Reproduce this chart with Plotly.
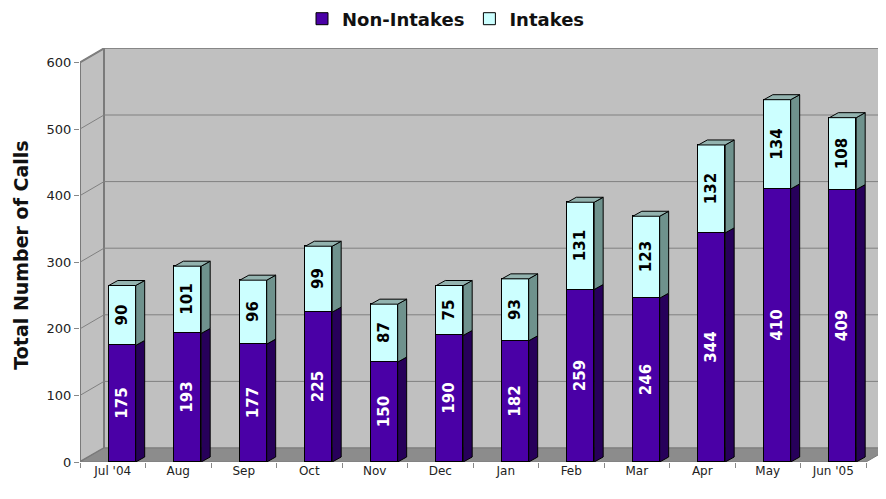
import plotly.graph_objects as go

# ---- data ----
months = ["Jul '04", "Aug", "Sep", "Oct", "Nov", "Dec", "Jan", "Feb", "Mar", "Apr", "May", "Jun '05"]
non_intakes = [175, 193, 177, 225, 150, 190, 182, 259, 246, 344, 410, 409]
intakes = [90, 101, 96, 99, 87, 75, 93, 131, 123, 132, 134, 108]
y_ticks = [0, 100, 200, 300, 400, 500, 600]

# ---- styling / geometry constants ----
PAGE = 8                           # default body margin of the html page
W, H = 886 - PAGE, 499 - PAGE
ML, MR, MT, MB = 80 - PAGE, 0, 48 - PAGE, H - (462 - PAGE)
PX_CAT = 65.5                      # pixels per category
PX_UNIT = 0.666                    # pixels per y unit
plot_w = W - ML - MR
plot_h = H - MT - MB
x_lo = -0.5
x_hi = x_lo + plot_w / PX_CAT
y_hi = plot_h / PX_UNIT

WALL_DX = 24 / PX_CAT              # depth of the box (category units)
WALL_DY = 14 / PX_UNIT             # depth of the box (y units)
BAR_W = 0.41
BAR_OFF = -0.06
BAR_DX = 9 / PX_CAT
BAR_DY = 5 / PX_UNIT

PURPLE = "#4a00a6"
PURPLE_SIDE = "#27005a"
CYAN = "#ccffff"
CYAN_SIDE = "#6f928d"
CYAN_TOP = "#93b3af"
WALL = "#c0c0c0"
FLOOR = "#8c8c8c"
EDGE = "#7a7a7a"
FONT = "DejaVu Sans, Verdana, sans-serif"

xs = list(range(len(months)))

fig = go.Figure()
fig.add_trace(go.Bar(
    x=xs, y=non_intakes, name="Non-Intakes", width=BAR_W, offset=BAR_OFF,
    marker=dict(color=PURPLE, line=dict(color="#000000", width=1)),
    texttemplate="%{y}", textposition="inside", insidetextanchor="middle",
    textangle=-90, constraintext="none",
    textfont=dict(color="white", size=15, family=FONT, weight="bold"),
))
fig.add_trace(go.Bar(
    x=xs, y=intakes, name="Intakes", width=BAR_W, offset=BAR_OFF,
    marker=dict(color=CYAN, line=dict(color="#000000", width=1)),
    texttemplate="%{y}", textposition="inside", insidetextanchor="middle",
    textangle=-90, constraintext="none",
    textfont=dict(color="black", size=15, family=FONT, weight="bold"),
))

shapes = []
# back wall
bx = x_lo + WALL_DX
shapes.append(dict(type="rect", xref="x", yref="y", x0=bx, x1=x_hi + 1, y0=WALL_DY, y1=y_hi + 5,
                   fillcolor=WALL, line=dict(color=EDGE, width=1), layer="below"))
# left side wall
shapes.append(dict(type="path", xref="x", yref="y", layer="below",
                   path=f"M {x_lo},0 L {x_lo},{y_ticks[-1]} L {bx},{y_ticks[-1] + WALL_DY} L {bx},{WALL_DY} Z",
                   fillcolor=WALL, line=dict(color=EDGE, width=2)))
# floor
fx_end = len(months) - 0.5
shapes.append(dict(type="path", xref="x", yref="y", layer="below",
                   path=f"M {x_lo},0 L {fx_end},0 L {fx_end + WALL_DX},{WALL_DY} L {bx},{WALL_DY} Z",
                   fillcolor=FLOOR, line=dict(color=EDGE, width=1)))
# gridlines on back wall + side wall
for v in y_ticks[1:]:
    shapes.append(dict(type="line", xref="x", yref="y", layer="below",
                       x0=bx, x1=x_hi + 1, y0=v + WALL_DY, y1=v + WALL_DY,
                       line=dict(color="#808080", width=1)))
    shapes.append(dict(type="line", xref="x", yref="y", layer="below",
                       x0=x_lo, x1=bx, y0=v, y1=v + WALL_DY,
                       line=dict(color="#808080", width=1)))

# 3D faces of the bars
for i, (a, b) in enumerate(zip(non_intakes, intakes)):
    xl = i + BAR_OFF
    xr = xl + BAR_W
    tot = a + b
    shapes.append(dict(type="path", xref="x", yref="y", layer="above",
                       path=f"M {xr},0 L {xr + BAR_DX},{BAR_DY} L {xr + BAR_DX},{a + BAR_DY} L {xr},{a} Z",
                       fillcolor=PURPLE_SIDE, line=dict(color="#000000", width=1)))
    shapes.append(dict(type="path", xref="x", yref="y", layer="above",
                       path=f"M {xr},{a} L {xr + BAR_DX},{a + BAR_DY} L {xr + BAR_DX},{tot + BAR_DY} L {xr},{tot} Z",
                       fillcolor=CYAN_SIDE, line=dict(color="#000000", width=1)))
    shapes.append(dict(type="path", xref="x", yref="y", layer="above",
                       path=f"M {xl},{tot} L {xl + BAR_DX},{tot + BAR_DY} L {xr + BAR_DX},{tot + BAR_DY} L {xr},{tot} Z",
                       fillcolor=CYAN_TOP, line=dict(color="#000000", width=1)))

fig.update_layout(
    width=W, height=H,
    margin=dict(l=ML, r=MR, t=MT, b=MB, autoexpand=False),
    paper_bgcolor="white", plot_bgcolor="white",
    barmode="stack", bargap=0,
    shapes=shapes,
    showlegend=True,
    legend=dict(orientation="h", x=(446 - 80) / plot_w, xanchor="center",
                y=(462 - 19) / plot_h, yanchor="middle", traceorder="normal",
                font=dict(family=FONT, size=18, color="#111111", weight="bold"),
                itemwidth=30, bgcolor="rgba(0,0,0,0)"),
    xaxis=dict(range=[x_lo, x_hi], tickmode="array", tickvals=xs, ticktext=months,
               ticks="", showgrid=False, zeroline=False, showline=False,
               tickfont=dict(family=FONT, size=12, color="#222222"),
               minor=dict(tickmode="array", tickvals=[i - 0.5 for i in range(len(months) + 1)],
                          ticks="outside", ticklen=5, tickcolor="#888888", showgrid=False)),
    yaxis=dict(range=[0, y_hi], tickmode="array", tickvals=y_ticks,
               ticks="outside", ticklen=5, tickcolor="#888888",
               showgrid=False, zeroline=False, showline=False,
               tickfont=dict(family=FONT, size=13, color="#222222"),
               title=dict(text="Total Number of Calls", standoff=12,
                          font=dict(family=FONT, size=19, color="#111111", weight="bold"))),
)

fig.write_html("out.html")
